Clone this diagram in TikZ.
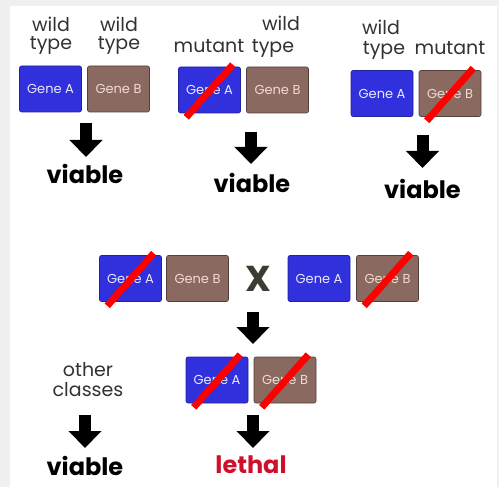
\documentclass[tikz,border=0pt]{standalone}
\usepackage{fontspec}
\setmainfont{Poppins}
\usetikzlibrary{arrows.meta}
\definecolor{geneblue}{RGB}{48,48,220}
\definecolor{genebrown}{RGB}{138,106,96}
\definecolor{btext}{RGB}{240,218,210}
\definecolor{atext}{RGB}{232,232,255}
\definecolor{lbltext}{RGB}{50,50,50}
\definecolor{xcol}{RGB}{60,60,50}
\definecolor{lethalred}{RGB}{208,16,42}
\tikzset{
  genebox/.style={rectangle, rounded corners=2pt, minimum width=62pt, minimum height=46pt, inner sep=0pt, font=\fontsize{13}{13}\selectfont},
  geneA/.style={genebox, fill=geneblue, draw=geneblue!70!black, line width=0.6pt, text=atext},
  geneB/.style={genebox, fill=genebrown, draw=genebrown!60!black, line width=0.6pt, text=btext},
  lbl/.style={text=lbltext, font=\fontsize{19}{20}\selectfont, inner sep=0pt, anchor=base},
  result/.style={font=\bfseries\fontsize{24}{24}\selectfont, inner sep=0pt, anchor=base},
  blockarrow/.style={line width=12pt, -{Triangle[width=32pt,length=17pt]}},
  cross/.style={red, line width=7pt}
}
\newcommand{\genecross}[1]{\draw[cross] ([shift={(8,4)}]#1.south west) -- ([shift={(-8,-2)}]#1.north east);}
\begin{document}
\begin{tikzpicture}[x=1pt,y=-1pt]
\fill[black!6] (0,0) rectangle (499,487);
\fill[white] (10,6) rectangle (497,487);
\useasboundingbox (0,0) rectangle (499,487);

% panel 1
\node[lbl] (w1) at (51,32) {wild};
\node[lbl] (t1) at (51,50) {type};
\node[lbl] (w2) at (119,32) {wild};
\node[lbl] (t2) at (119,50) {type};
\node[geneA] (a1) at (50.5,89) {Gene A};
\node[geneB] (b1) at (118.5,89) {Gene B};
\coordinate (s1) at (86,123);
\coordinate (e1) at (86,157);
\draw[blockarrow] (s1) -- (e1);
\node[result] (v1) at (85,184) {viable};

% panel 2
\node[lbl] (w3) at (281,31) {wild};
\node[lbl] (m3) at (209,53) {mutant};
\node[lbl] (t3) at (273,53) {type};
\node[geneA] (a2) at (209.5,90) {Gene A};
\node[geneB] (b2) at (277.5,90) {Gene B};
\genecross{a2}
\coordinate (s2) at (251,132);
\coordinate (e2) at (251,164);
\draw[blockarrow] (s2) -- (e2);
\node[result] (v2) at (252,193) {viable};

% panel 3
\node[lbl] (w4) at (381,35) {wild};
\node[lbl] (t4) at (384,55) {type};
\node[lbl] (m4) at (450,55) {mutant};
\node[geneA] (a3) at (382,93.5) {Gene A};
\node[geneB] (b3) at (450,93.5) {Gene B};
\genecross{b3}
\coordinate (s3) at (422.5,135);
\coordinate (e3) at (422.5,168);
\draw[blockarrow] (s3) -- (e3);
\node[result] (v3) at (422.5,198) {viable};

% cross
\node[geneA] (a4) at (130.5,278.5) {Gene A};
\node[geneB] (b4) at (197.5,278.5) {Gene B};
\genecross{a4}
\node[text=xcol, font=\bfseries\fontsize{36}{36}\selectfont, inner sep=0pt] (x) at (258,279) {X};
\node[geneA] (a5) at (319,278.5) {Gene A};
\node[geneB] (b5) at (387.5,278.5) {Gene B};
\genecross{b5}
\coordinate (s4) at (253,312);
\coordinate (e4) at (253,344);
\draw[blockarrow] (s4) -- (e4);

% offspring
\node[geneA] (a6) at (217,380) {Gene A};
\node[geneB] (b6) at (285,380) {Gene B};
\genecross{a6}
\genecross{b6}
\coordinate (s5) at (253,415);
\coordinate (e5) at (253,448);
\draw[blockarrow] (s5) -- (e5);
\node[result, text=lethalred] (l) at (251,473) {lethal};

\node[lbl] (o) at (88,376) {other};
\node[lbl] (c) at (88,396) {classes};
\coordinate (s6) at (85,415);
\coordinate (e6) at (85,448);
\draw[blockarrow] (s6) -- (e6);
\node[result] (v4) at (85,475) {viable};
\end{tikzpicture}
\end{document}
